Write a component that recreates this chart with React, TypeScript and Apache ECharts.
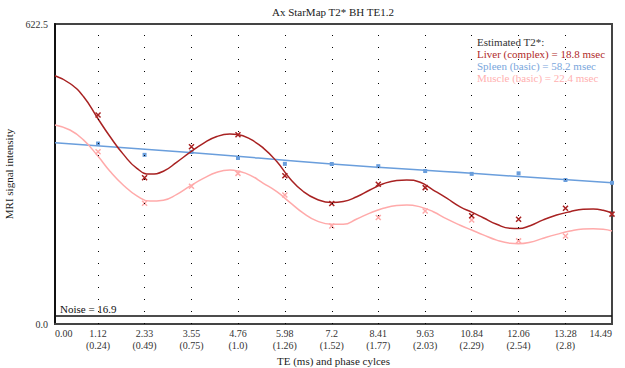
import React, { useEffect, useRef } from "react";
import * as echarts from "echarts";

const TITLE = "Ax StarMap T2* BH TE1.2";
const tickTE = [0, 1.12, 2.33, 3.55, 4.76, 5.98, 7.2, 8.41, 9.63, 10.84, 12.06, 13.28, 14.49];
const tickText = ["0.00", "1.12", "2.33", "3.55", "4.76", "5.98", "7.2", "8.41", "9.63", "10.84", "12.06", "13.28", "14.49"];
const phaseText = ["", "(0.24)", "(0.49)", "(0.75)", "(1.0)", "(1.26)", "(1.52)", "(1.77)", "(2.03)", "(2.29)", "(2.54)", "(2.8)", ""];

const obsTE = [1.12, 2.33, 3.55, 4.76, 5.98, 7.2, 8.41, 9.63, 10.84, 12.06, 13.28, 14.49];
const liverObs = [433.6, 303.5, 367.8, 392.5, 307.7, 250, 290, 283, 224.7, 217.2, 240, 228];
const spleenObs = [374.5, 351, 357, 344.5, 332.3, 332, 327.5, 317.4, 311.5, 312.6, 298.8, 293];
const muscleObs = [357.5, 250.4, 286, 312.6, 267.6, 203.3, 221, 234.4, 215.8, 172.5, 182.6, null];

const fitTE = [0, 0.39, 0.74, 1.11, 1.43, 1.78, 2.13, 2.47, 2.82, 3.17, 3.51, 3.86, 4.21, 4.55, 4.75, 5.07, 5.42, 5.77, 6.11, 6.46, 6.81, 7.2, 7.5, 7.85, 8.19, 8.54, 8.89, 9.15, 9.5, 9.84, 10.19, 10.54, 10.84, 11.14, 11.49, 11.84, 12.05, 12.36, 12.7, 13.05, 13.4, 13.74, 14.0, 14.26, 14.49];
const liverFit = [515, 499, 472, 427, 389, 352, 323, 311, 317, 336, 356, 375, 389, 394, 393, 384, 365, 337, 302, 275, 259, 252, 254, 264, 278, 291, 298, 299, 294, 278, 261, 243, 232, 220.5, 207, 198.5, 198, 204, 216, 226, 233, 238, 238.6, 236, 230];
const muscleFit = [413, 402.5, 382, 349, 317, 288, 266, 255, 257, 269, 286, 302, 315, 319.5, 317.4, 309, 292, 274.5, 252.5, 230, 214, 207, 207, 218, 230, 240, 246, 247, 243, 233, 218, 205, 195, 185, 174, 167.5, 166.6, 169.5, 178, 186, 193, 197, 197.4, 196.5, 193];
const spleenFitTE = [0, 3.51, 7.2, 10.84, 14.49];
const spleenFit = [376, 356, 332, 312.6, 293];

const NOISE = 16.9;
const Y_MAX = 622.5;

const legendLines = [
  { text: "Estimated T2*:", color: "#333333" },
  { text: "Liver (complex) = 18.8 msec", color: "#b02a2a" },
  { text: "Spleen (basic) = 58.2 msec", color: "#7aa6dc" },
  { text: "Muscle (basic) = 22.4 msec", color: "#ffb0b0" },
];

const LIVER = "#a82222";
const SPLEEN = "#6a9edc";
const MUSCLE = "#ffaaaa";
const FONT = "'Liberation Serif', 'Times New Roman', serif";

const pairs = (xs: number[], ys: (number | null)[]) =>
  xs.map((x, i) => [x, ys[i]]).filter((p) => p[1] !== null);

const X_SHAPE = "path://M0,0L10,10M10,0L0,10";

export default function App() {
  const ref = useRef<HTMLDivElement>(null);
  useEffect(() => {
    if (!ref.current) return;
    const chart = echarts.init(ref.current, null, { renderer: "svg" });
    chart.setOption({
      animation: false,
      title: {
        text: TITLE,
        left: 333,
        textAlign: "center",
        top: 6,
        padding: 0,
        textStyle: { fontFamily: FONT, fontSize: 11, fontWeight: "normal", color: "#222" },
      },
      grid: {
        left: 55,
        right: 13,
        top: 24,
        bottom: 44,
        containLabel: false,
        outerBoundsMode: "none",
        show: true,
        borderColor: "#444",
        borderWidth: 2,
        backgroundColor: "transparent",
      },
      xAxis: {
        type: "value",
        min: 0,
        max: 14.49,
        name: "TE (ms) and phase cylces",
        nameLocation: "middle",
        nameGap: 30,
        nameTextStyle: { fontFamily: FONT, fontSize: 11, color: "#222" },
        axisLine: { show: true, lineStyle: { color: "#444", width: 2 } },
        axisTick: { show: false },
        splitLine: { show: false },
        axisLabel: {
          customValues: tickTE,
          fontFamily: FONT,
          fontSize: 10,
          color: "#333",
          lineHeight: 12,
          margin: 3,
          alignMinLabel: "left",
          alignMaxLabel: "right",
          formatter: (v: number) => {
            const i = tickTE.findIndex((t) => Math.abs(t - v) < 1e-6);
            if (i < 0) return "";
            return phaseText[i] ? tickText[i] + "\n" + phaseText[i] : tickText[i];
          },
        },
      },
      yAxis: {
        type: "value",
        min: 0,
        max: Y_MAX,
        interval: Y_MAX,
        name: "MRI signal intensity",
        nameLocation: "middle",
        nameGap: 33,
        nameTextStyle: { fontFamily: FONT, fontSize: 11, color: "#222" },
        axisLine: { show: true, lineStyle: { color: "#111", width: 2 } },
        axisTick: { show: false },
        splitLine: { show: false },
        axisLabel: {
          fontFamily: FONT,
          fontSize: 10,
          color: "#333",
          margin: 7,
          formatter: (v: number) => v.toFixed(1),
        },
      },
      graphic: legendLines.map((l, i) => ({
        type: "text",
        left: 477,
        top: 36 + i * 12.3,
        style: { text: l.text, fill: l.color, fontFamily: FONT, fontSize: 11 },
        silent: true,
      })),
      series: [
        {
          type: "line",
          data: [],
          silent: true,
          markLine: {
            silent: true,
            symbol: ["none", "none"],
            label: { show: false },
            lineStyle: { type: [1, 11], color: "#000", width: 1 },
            data: tickTE.slice(1, -1).map((t) => ({ xAxis: t })),
          },
        },
        {
          type: "line",
          data: [],
          silent: true,
          markLine: {
            silent: true,
            symbol: ["none", "none"],
            data: [
              {
                yAxis: NOISE,
                lineStyle: { type: "solid", color: "#111", width: 1.5 },
                label: {
                  show: true,
                  position: "insideStartTop",
                  formatter: "Noise = " + NOISE,
                  fontFamily: FONT,
                  fontSize: 11,
                  color: "#111",
                  distance: [5, 1],
                },
              },
            ],
          },
        },
        {
          name: "Spleen fit",
          type: "line",
          smooth: true,
          showSymbol: false,
          data: pairs(spleenFitTE, spleenFit),
          lineStyle: { color: SPLEEN, width: 1.5 },
        },
        {
          name: "Muscle fit",
          type: "line",
          smooth: true,
          showSymbol: false,
          data: pairs(fitTE, muscleFit),
          lineStyle: { color: MUSCLE, width: 1.5 },
        },
        {
          name: "Liver fit",
          type: "line",
          smooth: true,
          showSymbol: false,
          data: pairs(fitTE, liverFit),
          lineStyle: { color: LIVER, width: 1.5 },
        },
        {
          name: "Spleen",
          type: "scatter",
          symbol: "rect",
          symbolSize: 4,
          data: pairs(obsTE, spleenObs),
          itemStyle: { color: SPLEEN, opacity: 1 },
        },
        {
          name: "Muscle",
          type: "scatter",
          symbol: X_SHAPE,
          symbolSize: 5,
          data: pairs(obsTE, muscleObs),
          itemStyle: { color: MUSCLE, borderColor: MUSCLE, borderWidth: 1.5, opacity: 1 },
        },
        {
          name: "Liver",
          type: "scatter",
          symbol: X_SHAPE,
          symbolSize: 5,
          data: pairs(obsTE, liverObs),
          itemStyle: { color: LIVER, borderColor: LIVER, borderWidth: 1.5, opacity: 1 },
        },
      ],
    });
    return () => chart.dispose();
  }, []);
  return <div ref={ref} style={{ width: 625, height: 368, position: "absolute", left: 0, top: 0 }} />;
}
